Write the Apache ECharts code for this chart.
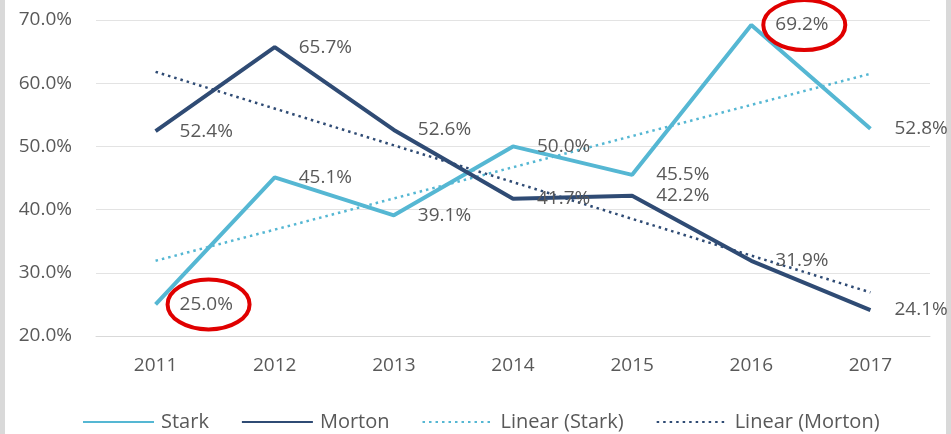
<!DOCTYPE html>
<html>
<head>
<meta charset="utf-8">
<script src="https://cdn.jsdelivr.net/npm/echarts@6/dist/echarts.min.js"></script>
<style>
  html, body { margin: 0; padding: 0; background: #fff; }
  #chart { width: 951px; height: 434px; }
</style>
</head>
<body>
<div id="chart"></div>
<script>
// data
var years = ['2011', '2012', '2013', '2014', '2015', '2016', '2017']
var stark = [25.0, 45.1, 39.1, 50.0, 45.5, 69.2, 52.8]
var morton = [52.4, 65.7, 52.6, 41.7, 42.2, 31.9, 24.1]
// trend line end points (first & last year), as drawn
var starkTrend = [31.9, null, null, null, null, null, 61.5]
var mortonTrend = [61.8, null, null, null, null, null, 26.9]

var lightBlue = '#55b7d3'
var darkBlue = '#2f4b74'
var txt = '#595959'
var font = 'Open Sans'

var chart = echarts.init(document.getElementById('chart'))

var pctLabel = {
  show: true,
  position: 'right',
  distance: 24,
  color: txt,
  fontFamily: font,
  fontSize: 19,
  formatter: function (p) { return p.value.toFixed(1) + '%' }
}

chart.setOption({
  animation: false,
  grid: { left: 96, right: 21, top: 20, bottom: 98 },
  legend: {
    top: 407,
    left: 77,
    itemWidth: 71,
    itemHeight: 12,
    itemGap: 32,
    itemStyle: { opacity: 0 },
    textStyle: { color: txt, fontFamily: font, fontSize: 20, padding: [0, 0, 0, 2] },
    data: ['Stark', 'Morton', 'Linear (Stark)', 'Linear (Morton)']
  },
  xAxis: {
    type: 'category',
    data: years,
    axisTick: { show: false },
    axisLine: { lineStyle: { color: '#d9d9d9' } },
    axisLabel: { color: txt, fontFamily: font, fontSize: 19, margin: 20 }
  },
  yAxis: {
    type: 'value',
    min: 20, max: 70, interval: 10,
    axisLabel: {
      color: txt, fontFamily: font, fontSize: 19, margin: 24,
      formatter: function (v) { return v.toFixed(1) + '%' }
    },
    splitLine: { lineStyle: { color: '#e3e3e3' } }
  },
  series: [
    {
      name: 'Linear (Stark)', type: 'line', data: starkTrend, connectNulls: true,
      symbol: 'none', lineStyle: { color: lightBlue, width: 2.5, type: [2.5, 4] },
      itemStyle: { color: lightBlue }, z: 1
    },
    {
      name: 'Linear (Morton)', type: 'line', data: mortonTrend, connectNulls: true,
      symbol: 'none', lineStyle: { color: darkBlue, width: 2.5, type: [2.5, 4] },
      itemStyle: { color: darkBlue }, z: 1
    },
    {
      name: 'Stark', type: 'line', data: stark, symbol: 'circle', symbolSize: 0,
      lineStyle: { color: lightBlue, width: 4 }, itemStyle: { color: lightBlue },
      label: pctLabel, z: 3
    },
    {
      name: 'Morton', type: 'line', data: morton, symbol: 'circle', symbolSize: 0,
      lineStyle: { color: darkBlue, width: 4 }, itemStyle: { color: darkBlue },
      label: pctLabel, z: 3
    }
  ]
})

// red circles round two Stark labels, placed from the data points
var p1 = chart.convertToPixel({ seriesIndex: 2 }, [0, stark[0]])
var p2 = chart.convertToPixel({ seriesIndex: 2 }, [5, stark[5]])
function ring(p) {
  return {
    type: 'ellipse',
    shape: { cx: p[0] + 53, cy: p[1], rx: 41, ry: 25 },
    style: { fill: 'none', stroke: '#e00000', lineWidth: 4 },
    z: 100
  }
}
chart.setOption({
  graphic: [
    ring(p1),
    ring(p2),
    { type: 'rect', shape: { x: 0, y: 0, width: 5, height: 434 }, style: { fill: '#d9d9d9' } },
    { type: 'rect', shape: { x: 946, y: 0, width: 5, height: 434 }, style: { fill: '#d9d9d9' } }
  ]
})
</script>
</body>
</html>
